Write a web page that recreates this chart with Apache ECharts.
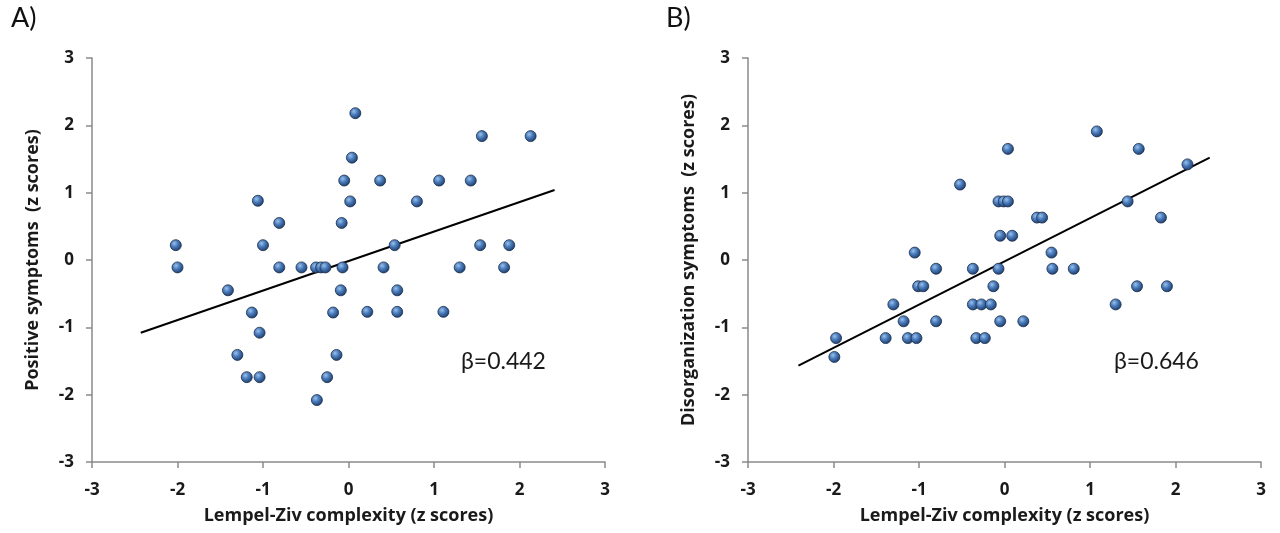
<!DOCTYPE html>
<html>
<head>
<meta charset="utf-8">
<script src="https://cdn.jsdelivr.net/npm/echarts@6/dist/echarts.min.js"></script>
<style>
html,body{margin:0;padding:0;background:#fff;}
#chart{width:1280px;height:533px;}
</style>
</head>
<body>
<div id="chart"></div>
<script>
// Panel A: Lempel-Ziv complexity vs Positive symptoms
const xA = [0.08,0.04,-0.05,0.02,-0.08,-1.06,-0.81,-2.02,-1.00,-2.00,-0.81,-0.55,-0.38,-0.32,-0.27,-0.07,
            1.56,2.13,0.37,1.06,1.43,0.80,0.54,1.54,1.88,0.41,1.30,1.82,-1.41,-0.09,-1.13,-0.18,-1.04,
            -1.30,-0.14,-1.19,-1.04,-0.25,-0.37,0.57,0.22,0.57,1.11];
const yA = [2.18,1.52,1.18,0.87,0.55,0.88,0.55,0.22,0.22,-0.11,-0.11,-0.11,-0.11,-0.11,-0.11,-0.11,
            1.84,1.84,1.18,1.18,1.18,0.87,0.22,0.22,0.22,-0.11,-0.11,-0.11,-0.45,-0.45,-0.78,-0.78,-1.08,
            -1.41,-1.41,-1.74,-1.74,-1.74,-2.08,-0.45,-0.77,-0.77,-0.77];
const fitAx = [-2.43, 2.41];
const fitAy = [-1.08, 1.04];

// Panel B: Lempel-Ziv complexity vs Disorganization symptoms
const xB = [0.04,-0.52,-0.07,-0.01,0.04,-0.05,0.09,-1.05,-0.80,-0.37,1.08,1.57,2.14,1.44,0.38,0.44,1.83,
            0.55,-0.07,0.56,0.81,-1.01,-0.95,-0.13,-1.30,-0.37,-0.27,-0.16,-1.18,-0.80,-0.05,-1.97,-1.39,
            -1.13,-1.03,-0.33,-0.23,-1.99,1.55,1.90,1.30,0.22];
const yB = [1.65,1.12,0.87,0.87,0.87,0.36,0.36,0.11,-0.13,-0.13,1.91,1.65,1.42,0.87,0.63,0.63,0.63,
            0.11,-0.13,-0.13,-0.13,-0.39,-0.39,-0.39,-0.66,-0.66,-0.66,-0.66,-0.91,-0.91,-0.91,-1.16,-1.16,
            -1.16,-1.16,-1.16,-1.16,-1.44,-0.39,-0.39,-0.66,-0.91];
const fitBx = [-2.41, 2.40];
const fitBy = [-1.57, 1.52];

const xTitle = 'Lempel-Ziv complexity (z scores)';
const yTitleA = 'Positive symptoms  (z scores)';
const yTitleB = 'Disorganization symptoms  (z scores)';
const betaA = 'β=0.442';
const betaB = 'β=0.646';
const panelA = 'A)';
const panelB = 'B)';

const zip = (xs, ys) => xs.map((x, i) => [x, ys[i]]);

const FONT = 'Lato, "Liberation Sans", sans-serif';
const TFONT = '"Open Sans", Lato, sans-serif';
const axisColor = '#8a8a8a';
const labelColor = '#1a1a1a';

const sphere = {
  type: 'radial', x: 0.38, y: 0.35, r: 0.65,
  colorStops: [
    {offset: 0, color: '#9cc0ea'},
    {offset: 0.45, color: '#4a7cbc'},
    {offset: 1, color: '#1e3e6e'}
  ]
};

function xAxisCfg(gridIndex) {
  return {
    gridIndex, type: 'value', min: -3, max: 3, interval: 1,
    name: xTitle, nameLocation: 'middle', nameGap: 45,
    nameTextStyle: {fontFamily: TFONT, fontWeight: 'bold', fontSize: 18, color: labelColor},
    axisLine: {onZero: false, lineStyle: {color: axisColor, width: 1.5}},
    axisTick: {show: true, length: 6, inside: false, lineStyle: {color: axisColor, width: 1.5}},
    axisLabel: {fontFamily: TFONT, fontWeight: 'bold', fontSize: 17, color: labelColor, margin: 20},
    splitLine: {show: false}
  };
}
function yAxisCfg(gridIndex, title) {
  return {
    gridIndex, type: 'value', min: -3, max: 3, interval: 1,
    name: title, nameLocation: 'middle', nameGap: 50, nameRotate: 90,
    nameTextStyle: {fontFamily: TFONT, fontWeight: 'bold', fontSize: 18, color: labelColor},
    axisLine: {onZero: false, lineStyle: {color: axisColor, width: 1.5}},
    axisTick: {show: true, length: 6, inside: false, lineStyle: {color: axisColor, width: 1.5}},
    axisLabel: {fontFamily: TFONT, fontWeight: 'bold', fontSize: 17, color: labelColor, margin: 18},
    splitLine: {show: false}
  };
}
function scatter(i, data) {
  return {
    type: 'scatter', xAxisIndex: i, yAxisIndex: i, data,
    symbol: 'circle', symbolSize: 11,
    itemStyle: {color: sphere, borderColor: '#1b2e4a', borderWidth: 0.8, opacity: 1},
    z: 3
  };
}
function fitLine(i, xs, ys) {
  return {
    type: 'line', xAxisIndex: i, yAxisIndex: i, data: zip(xs, ys),
    showSymbol: false, symbol: 'none',
    lineStyle: {color: '#000', width: 2}, z: 2, silent: true
  };
}

const chart = echarts.init(document.getElementById('chart'));
chart.setOption({
  animation: false,
  backgroundColor: '#fff',
  grid: [
    {left: 92, top: 58, width: 513, height: 404},
    {left: 748, top: 58, width: 513, height: 404}
  ],
  xAxis: [xAxisCfg(0), xAxisCfg(1)],
  yAxis: [yAxisCfg(0, yTitleA), yAxisCfg(1, yTitleB)],
  series: [
    fitLine(0, fitAx, fitAy),
    scatter(0, zip(xA, yA)),
    fitLine(1, fitBx, fitBy),
    scatter(1, zip(xB, yB))
  ],
  graphic: [
    {type: 'text', left: 11, top: 5, style: {text: panelA, font: '27px ' + FONT, fill: '#111'}},
    {type: 'text', left: 666, top: 5, style: {text: panelB, font: '27px ' + FONT, fill: '#111'}},
    {type: 'text', left: 461, top: 350, style: {text: betaA, font: '23px ' + FONT, fill: '#1a1a1a'}},
    {type: 'text', left: 1114, top: 350, style: {text: betaB, font: '23px ' + FONT, fill: '#1a1a1a'}}
  ]
});
</script>
</body>
</html>
